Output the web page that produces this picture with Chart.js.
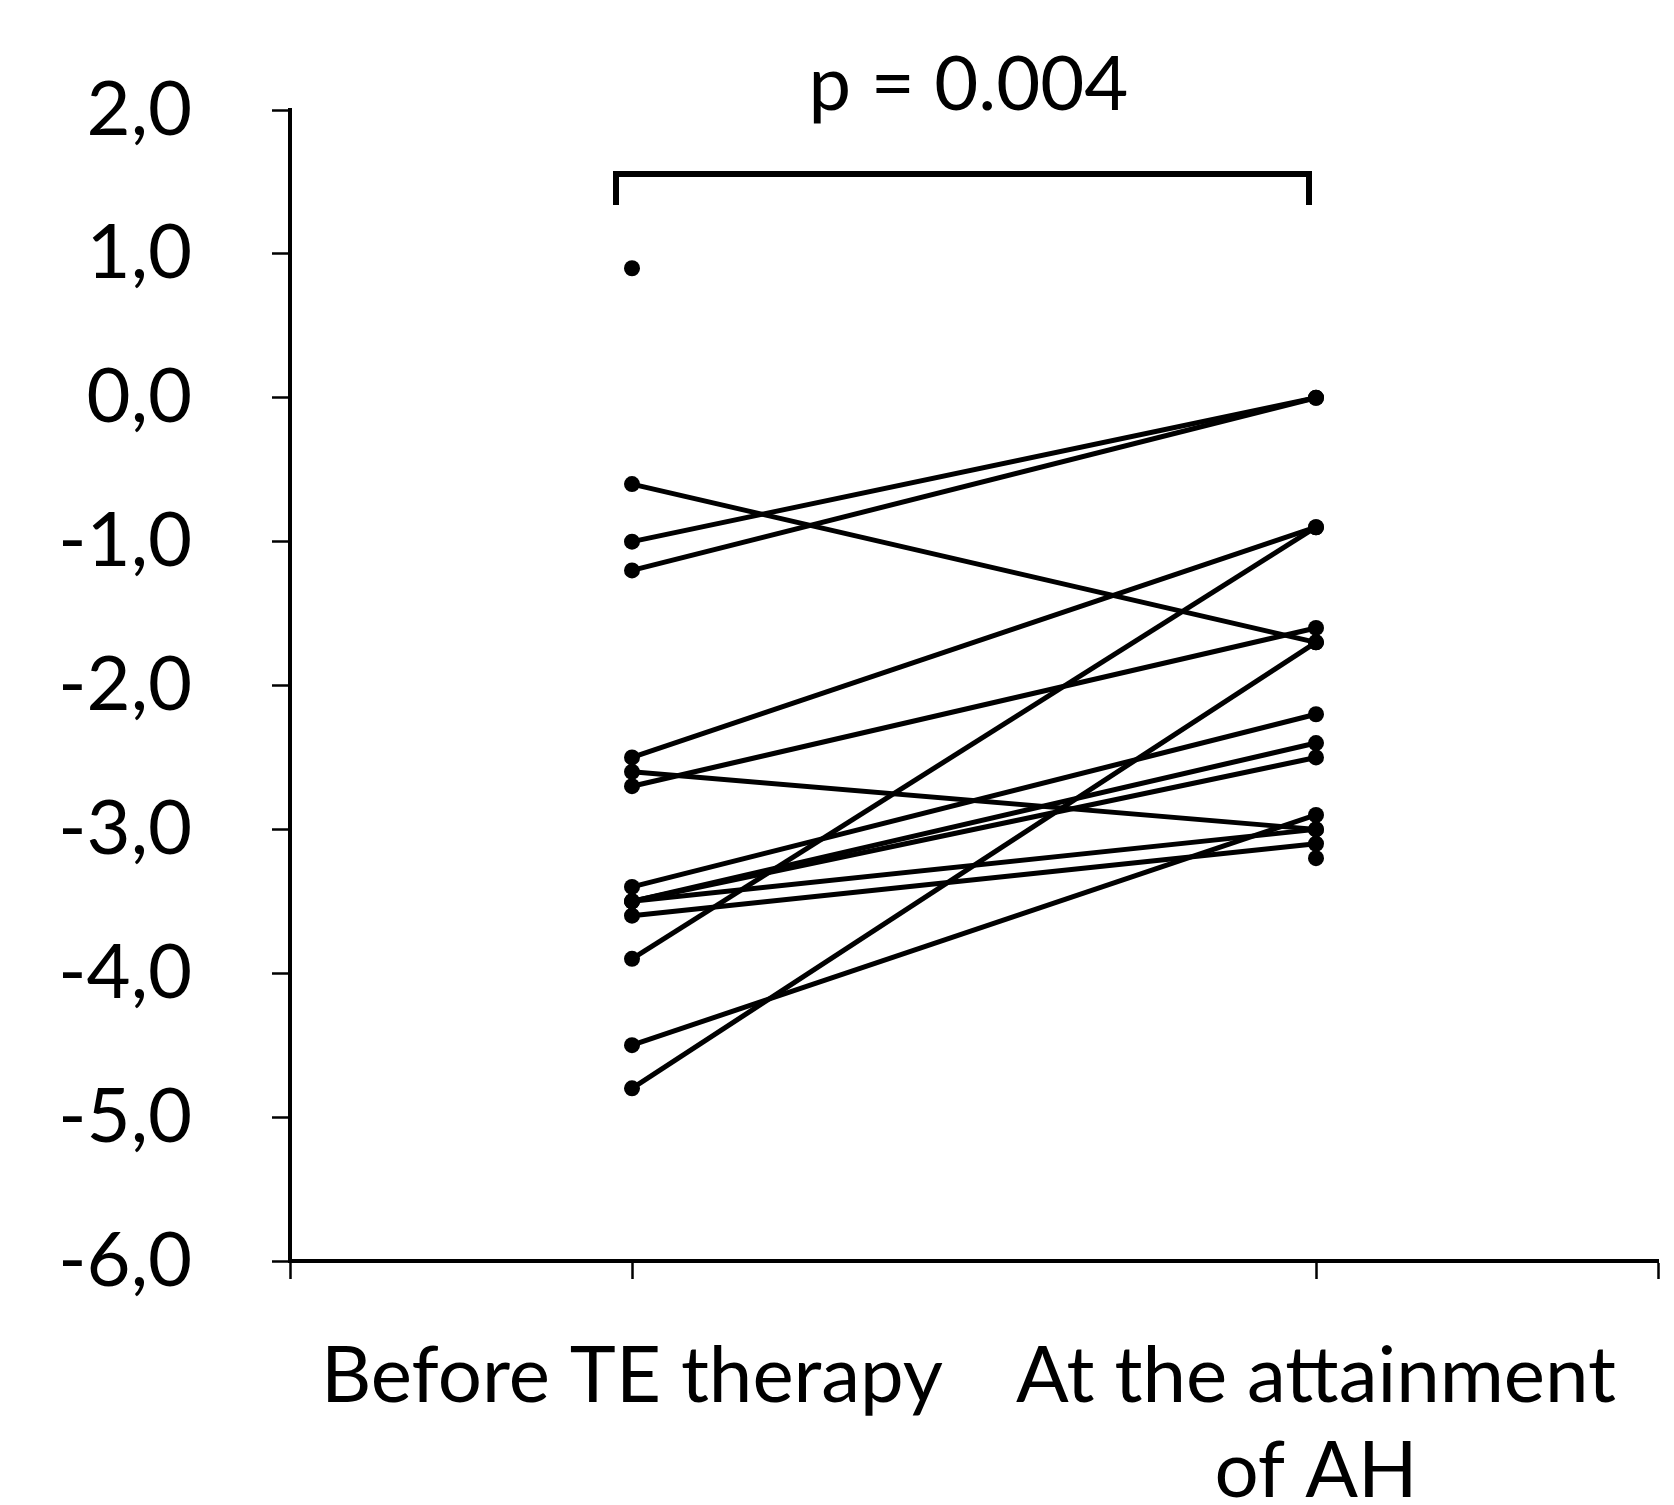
<!DOCTYPE html>
<html>
<head>
<meta charset="utf-8">
<script src="https://cdn.jsdelivr.net/npm/chart.js@4/dist/chart.umd.min.js"></script>
<style>
  html, body { margin: 0; padding: 0; background: #fff; }
  #wrap { width: 1674px; height: 1505px; }
</style>
</head>
<body>
<div id="wrap"><canvas id="myChart" width="1674" height="1505"></canvas></div>
<script>
// one entry per patient; null = value missing at that time point
const categories = ['Before TE therapy', ['At the attainment', 'of AH']];
const beforeTE = [0.9, -0.6, -1.0, -1.2, -2.5, -2.6, -2.7, -3.4, -3.5, -3.5, -3.5, -3.6, -3.9, -4.5, -4.8, null];
const atAH     = [null, -1.7, 0.0, 0.0, -0.9, -3.0, -1.6, -2.2, -2.4, -2.5, -3.0, -3.1, -0.9, -2.9, -1.7, -3.2];
const yTicks = [2, 1, 0, -1, -2, -3, -4, -5, -6];
const pLabel = 'p = 0.004';

const fontFam = 'Lato, "Open Sans", sans-serif';

const datasets = beforeTE.map((b, i) => ({
  data: [{x: 0, y: b}, {x: 1, y: atAH[i]}],
  borderColor: '#000',
  backgroundColor: '#000',
  borderWidth: 5,
  pointRadius: 8,
  pointBorderWidth: 0,
  showLine: true,
  spanGaps: false
}));

const bracket = {
  id: 'bracket',
  afterDraw(chart) {
    const {ctx, scales: {x, y}} = chart;
    const x0 = x.getPixelForValue(0) - 16;
    const x1 = x.getPixelForValue(1) - 7;
    const yTop = y.getPixelForValue(1.555);
    const yEnd = y.getPixelForValue(1.34);
    ctx.save();
    ctx.strokeStyle = '#000';
    ctx.lineWidth = 6;
    ctx.lineJoin = 'miter';
    ctx.beginPath();
    ctx.moveTo(x0, yEnd);
    ctx.lineTo(x0, yTop);
    ctx.lineTo(x1, yTop);
    ctx.lineTo(x1, yEnd);
    ctx.stroke();
    ctx.fillStyle = '#000';
    ctx.font = '76px ' + fontFam;
    ctx.textAlign = 'center';
    ctx.textBaseline = 'alphabetic';
    ctx.fillText(pLabel, (x0 + x1) / 2 + 6, y.getPixelForValue(2.0));
    ctx.restore();
  }
};

const config = {
  type: 'line',
  data: { datasets },
  options: {
    responsive: false,
    animation: false,
    layout: { padding: { top: 110, right: 16, left: 0, bottom: 0 } },
    plugins: { legend: { display: false }, tooltip: { enabled: false } },
    scales: {
      x: {
        type: 'linear',
        min: -0.5,
        max: 1.5,
        afterBuildTicks: (axis) => { axis.ticks = [-0.5, 0, 1, 1.5].map(v => ({value: v})); },
        afterFit: (axis) => { axis.height = 244; axis.paddingLeft = 0; axis.paddingRight = 0; },
        ticks: {
          color: '#000',
          font: { family: fontFam, size: 78, lineHeight: 1.22 },
          padding: 50,
          maxRotation: 0,
          autoSkip: false,
          callback: (v) => v === 0 ? categories[0] : (v === 1 ? categories[1] : '')
        },
        grid: { drawOnChartArea: false, drawTicks: true, tickLength: 18, tickColor: '#000', tickWidth: 2.5 },
        border: { display: true, color: '#000', width: 4 }
      },
      y: {
        min: -6,
        max: 2,
        afterBuildTicks: (axis) => { axis.ticks = yTicks.map(v => ({value: v})); },
        afterFit: (axis) => { axis.width = 290; axis.paddingTop = 0; axis.paddingBottom = 0; },
        ticks: {
          color: '#000',
          font: { family: fontFam, size: 76 },
          padding: 80,
          callback: (v) => v.toFixed(1).replace('.', ',')
        },
        grid: { drawOnChartArea: false, drawTicks: true, tickLength: 18, tickColor: '#000', tickWidth: 2.5 },
        border: { display: true, color: '#000', width: 4 }
      }
    }
  },
  plugins: [bracket]
};

const ctx = document.getElementById('myChart').getContext('2d');
new Chart(ctx, config);
</script>
</body>
</html>
